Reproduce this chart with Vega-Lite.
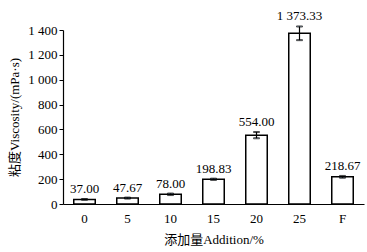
{
  "$schema": "https://vega.github.io/schema/vega-lite/v6.json",
  "width": 301,
  "height": 174,
  "autosize": "none",
  "padding": {"left": 63, "top": 30, "right": 3, "bottom": 48},
  "background": "white",
  "config": {
    "view": {"stroke": null},
    "font": "Liberation Serif",
    "axis": {"labelFont": "Liberation Serif", "titleFont": "Liberation Serif, Noto Sans CJK SC", "labelColor": "black", "titleColor": "black", "domainColor": "black", "tickColor": "black", "grid": false, "labelFontSize": 13, "titleFontSize": 13, "titleFontWeight": "normal", "domainWidth": 1.2, "labelOverlap": false, "labelFlush": false},
    "axisY": {"values": [0, 200, 400, 600, 800, 1000, 1200, 1400], "labelExpr": "replace(format(datum.value, ','), ',', ' ')", "tickSize": 4, "titlePadding": 6}
  },
  "data": {
    "values": [
      {"g": "0", "v": 37.00, "e": 3},
      {"g": "5", "v": 47.67, "e": 4},
      {"g": "10", "v": 78.00, "e": 6},
      {"g": "15", "v": 198.83, "e": 5},
      {"g": "20", "v": 554.00, "e": 25},
      {"g": "25", "v": 1373.33, "e": 55},
      {"g": "F", "v": 218.67, "e": 7}
    ]
  },
  "transform": [
    {"calculate": "datum.v - datum.e", "as": "lo"},
    {"calculate": "datum.v + datum.e", "as": "hi"},
    {"calculate": "replace(format(datum.v, ',.2f'), ',', ' ')", "as": "lab"}
  ],
  "encoding": {
    "x": {"field": "g", "type": "ordinal", "sort": null, "scale": {"paddingInner": 0.5, "paddingOuter": 0.25},
      "axis": {"title": "添加量Addition/%", "labelAngle": 0, "ticks": false, "labelPadding": 8, "titlePadding": 8}}
  },
  "layer": [
    {
      "mark": {"type": "bar", "fill": "white", "stroke": "black", "strokeWidth": 1.5},
      "encoding": {
        "y": {"field": "v", "type": "quantitative", "scale": {"domain": [0, 1400]}, "title": "粘度Viscosity/(mPa·s)"}
      }
    },
    {
      "mark": {"type": "errorbar", "ticks": {"size": 6, "stroke": "black"}, "rule": {"stroke": "black", "strokeWidth": 1.2}},
      "encoding": {
        "y": {"field": "lo", "type": "quantitative", "title": "粘度Viscosity/(mPa·s)"},
        "y2": {"field": "hi"}
      }
    },
    {
      "mark": {"type": "text", "baseline": "bottom", "dy": -3, "fontSize": 13, "font": "Liberation Serif"},
      "encoding": {
        "y": {"field": "hi", "type": "quantitative", "title": "粘度Viscosity/(mPa·s)"},
        "text": {"field": "lab", "type": "nominal"}
      }
    }
  ]
}
